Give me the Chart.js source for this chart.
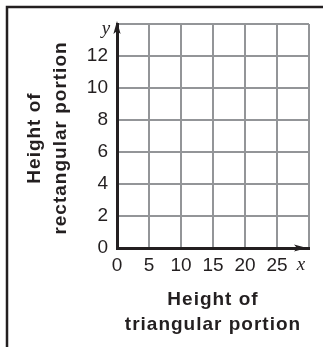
<!DOCTYPE html>
<html>
<head>
<meta charset="utf-8">
<script src="https://cdn.jsdelivr.net/npm/chart.js@4"></script>
<style>
  html, body { margin: 0; padding: 0; background: #fff; }
  #wrap { position: relative; width: 323px; height: 347px; }
</style>
</head>
<body>
<div id="wrap"><canvas id="grid-chart"></canvas></div>
<script>
// Axis ranges and labels for the blank coordinate grid
const xTicks = [0, 5, 10, 15, 20, 25, 30];
const yTicks = [0, 2, 4, 6, 8, 10, 12, 14];
const xTitle = ['Height of', 'triangular portion'];
const yTitle = ['Height of', 'rectangular portion'];
const xName = 'x';
const yName = 'y';
const points = []; // nothing plotted yet, just the grid

const INK = '#231f20';
const GRID = '#939598';

// arrowhead pointing along (dx, dy) with the tip at (x, y)
function arrowHead(ctx, x, y, dx, dy) {
    const len = 13, half = 3.6, notch = 10;
    const px = -dy, py = dx;
    ctx.beginPath();
    ctx.moveTo(x, y);
    ctx.lineTo(x - dx * len + px * half, y - dy * len + py * half);
    ctx.lineTo(x - dx * notch, y - dy * notch);
    ctx.lineTo(x - dx * len - px * half, y - dy * len - py * half);
    ctx.closePath();
    ctx.fill();
}

const gridDecor = {
    id: 'gridDecor',
    afterDraw(chart) {
        const { ctx, chartArea: a } = chart;
        ctx.save();

        // frame round the exercise
        ctx.strokeStyle = INK;
        ctx.lineWidth = 2.5;
        ctx.beginPath();
        ctx.moveTo(7, 347);
        ctx.lineTo(7, 7);
        ctx.lineTo(323, 7);
        ctx.stroke();

        // arrows on the axes
        ctx.fillStyle = INK;
        arrowHead(ctx, a.left, a.top - 3, 0, -1);
        arrowHead(ctx, a.right - 2, a.bottom, 1, 0);

        // axis names
        ctx.font = 'italic 19px "Liberation Serif"';
        ctx.textAlign = 'center';
        ctx.textBaseline = 'alphabetic';
        ctx.fillText(yName, a.left - 11, a.top + 10);
        ctx.fillText(xName, a.right - 8, a.bottom + 22);

        // axis titles
        ctx.font = 'bold 19px "Liberation Sans"';
        ctx.letterSpacing = '1px';
        ctx.fillText(xTitle[0], 213, 305);
        ctx.fillText(xTitle[1], 213, 330);

        ctx.translate(0, 138);
        ctx.rotate(-Math.PI / 2);
        ctx.fillText(yTitle[0], 0, 40);
        ctx.fillText(yTitle[1], 0, 66);
        ctx.restore();
    }
};

new Chart(document.getElementById('grid-chart'), {
    type: 'scatter',
    data: {
        datasets: [{ data: points, pointRadius: 0 }]
    },
    options: {
        responsive: true,
        maintainAspectRatio: false,
        animation: false,
        devicePixelRatio: 1,
        layout: { padding: { top: 24, right: 14, left: 0, bottom: 0 } },
        plugins: {
            legend: { display: false },
            tooltip: { enabled: false }
        },
        scales: {
            x: {
                type: 'linear',
                min: xTicks[0],
                max: xTicks[xTicks.length - 1],
                afterBuildTicks: s => { s.ticks = xTicks.map(v => ({ value: v })); },
                afterFit: s => { s.height = 99; },
                grid: { color: GRID, lineWidth: 2, drawTicks: false },
                border: { color: INK, width: 3 },
                ticks: {
                    padding: 6,
                    color: INK,
                    font: { family: 'Liberation Sans', size: 19 },
                    callback: v => (v === xTicks[xTicks.length - 1] ? '' : v)
                }
            },
            y: {
                type: 'linear',
                min: yTicks[0],
                max: yTicks[yTicks.length - 1],
                afterBuildTicks: s => { s.ticks = yTicks.map(v => ({ value: v })); },
                afterFit: s => { s.width = 117; },
                grid: { color: GRID, lineWidth: 2, drawTicks: false },
                border: { color: INK, width: 3 },
                ticks: {
                    padding: 9,
                    color: INK,
                    font: { family: 'Liberation Sans', size: 19 },
                    callback: v => (v === yTicks[yTicks.length - 1] ? '' : v)
                }
            }
        }
    },
    plugins: [gridDecor]
});
</script>
</body>
</html>
